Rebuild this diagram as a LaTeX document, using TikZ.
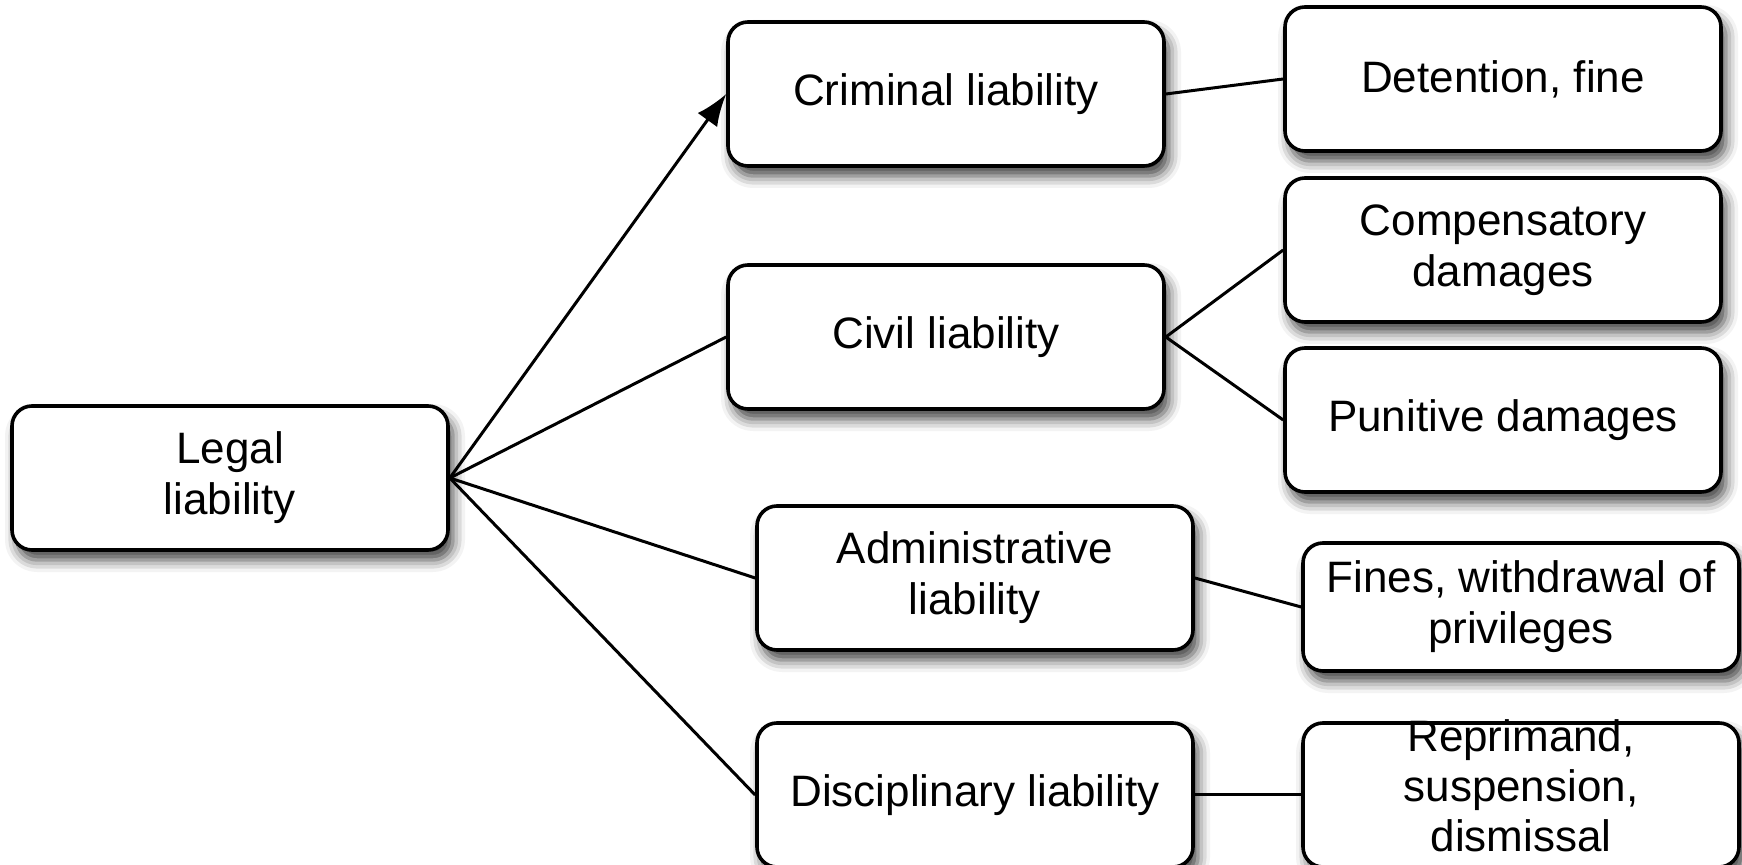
\documentclass[tikz,border=0pt]{standalone}
\usepackage{fontspec}
\setmainfont{Liberation Sans}
\usetikzlibrary{positioning, arrows.meta, shadows.blur}

\begin{document}
\begin{tikzpicture}[
    x=0.5pt, y=-0.5pt,
    box/.style={draw, line width=1.8pt, rounded corners=10pt, fill=white,
        minimum width=218pt, minimum height=72pt, align=center,
        font=\fontsize{22}{25.5}\selectfont,
        blur shadow={shadow xshift=2.5pt, shadow yshift=-5pt, shadow blur radius=6pt, shadow opacity=75}},
    boxtext/.style={align=center, font=\fontsize{22}{25}\selectfont},
    link/.style={line width=1.5pt}
]

\useasboundingbox (0,0) rectangle (1742,865);

% Root
\node[box] (legal) at (230,478) {Legal\\liability};

% Kinds of liability
\node[box] (criminal) at (946,94) {Criminal liability};
\node[box] (civil) at (946,337) {Civil liability};
\node[box] (admin) at (975,578) {Administrative\\liability};
\node[box] (disc) at (975,795) {Disciplinary liability};

% Sanctions
\node[box] (detention) at (1503,79) {Detention, fine};
\node[box] (comp) at (1503,250) {Compensatory\\damages};
\node[box] (punitive) at (1503,420) {Punitive damages};
\node[box, minimum height=64pt] (fines) at (1521,607) {Fines, withdrawal of\\privileges};
\node[box] (reprimand) at (1521,795) {};
\node[boxtext] (reprimandtext) at (1521,786) {Reprimand,\\suspension,\\dismissal};

% Connectors
\draw[link, -{Latex[length=16pt, width=12pt]}] (legal.east) -- (criminal.west);
\foreach \target in {civil, admin, disc} {
    \draw[link] (legal.east) -- (\target.west);
}
\draw[link] (criminal.east) -- (detention.west);
\foreach \target in {comp, punitive} {
    \draw[link] (civil.east) -- (\target.west);
}
\draw[link] (admin.east) -- (fines.west);
\draw[link] (disc.east) -- (reprimand.west);

\end{tikzpicture}
\end{document}
